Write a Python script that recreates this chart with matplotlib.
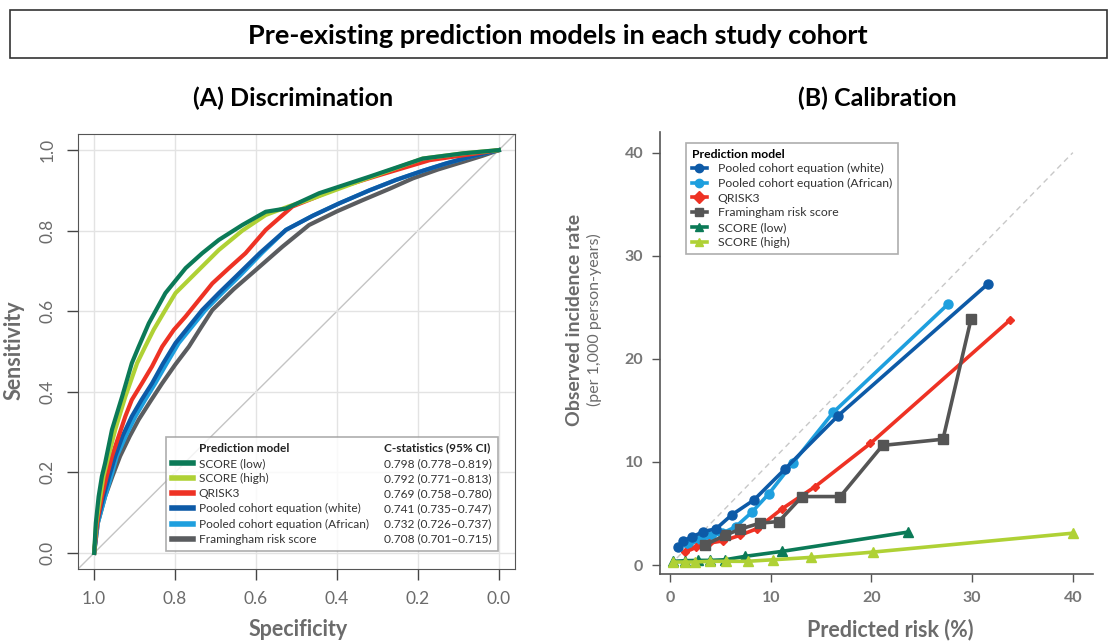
import matplotlib
matplotlib.use("Agg")
import matplotlib.pyplot as plt
from matplotlib.lines import Line2D
from matplotlib.patches import Rectangle

plt.rcParams['font.family'] = ['Lato', 'DejaVu Sans']

# colours per model
c_white = "#0d5aa7"
c_african = "#1e9fde"
c_qrisk = "#ee3224"
c_fram = "#5a5c5f"
c_low = "#0b7a57"
c_high = "#afd135"

# ---- (A) ROC curves: specificity / sensitivity
roc_low_spec = [1.0, 0.996, 0.989, 0.981, 0.973, 0.956, 0.931, 0.907, 0.890, 0.865, 0.824, 0.774,
                0.733, 0.692, 0.634, 0.576, 0.526, 0.444, 0.320, 0.188, 0.088, 0.0]
roc_low_sens = [0.0, 0.074, 0.140, 0.190, 0.223, 0.306, 0.388, 0.471, 0.512, 0.570, 0.645, 0.707,
                0.744, 0.777, 0.814, 0.847, 0.855, 0.893, 0.934, 0.979, 0.992, 1.0]
roc_high_spec = [1.0, 0.995, 0.985, 0.977, 0.969, 0.948, 0.923, 0.894, 0.874, 0.853, 0.826, 0.799,
                 0.750, 0.692, 0.634, 0.576, 0.520, 0.460, 0.336, 0.188, 0.088, 0.0]
roc_high_sens = [0.0, 0.074, 0.140, 0.190, 0.223, 0.306, 0.388, 0.471, 0.512, 0.554, 0.600, 0.645,
                 0.694, 0.752, 0.800, 0.839, 0.860, 0.880, 0.926, 0.979, 0.992, 1.0]
roc_qrisk_spec = [1.0, 0.993, 0.981, 0.969, 0.956, 0.923, 0.907, 0.882, 0.857, 0.832, 0.803, 0.774,
                  0.741, 0.708, 0.667, 0.626, 0.576, 0.510, 0.460, 0.402, 0.295, 0.171, 0.0]
roc_qrisk_sens = [0.0, 0.074, 0.140, 0.190, 0.240, 0.339, 0.380, 0.421, 0.463, 0.512, 0.554, 0.587,
                  0.628, 0.669, 0.707, 0.744, 0.802, 0.860, 0.880, 0.905, 0.938, 0.975, 1.0]
roc_white_spec = [1.0, 0.993, 0.977, 0.963, 0.948, 0.930, 0.907, 0.883, 0.857, 0.830, 0.799, 0.766,
                  0.733, 0.692, 0.650, 0.590, 0.526, 0.460, 0.394, 0.320, 0.254, 0.190, 0.130, 0.065, 0.0]
roc_white_sens = [0.0, 0.074, 0.140, 0.190, 0.240, 0.290, 0.339, 0.380, 0.421, 0.470, 0.521, 0.562,
                  0.603, 0.645, 0.686, 0.745, 0.802, 0.837, 0.868, 0.900, 0.926, 0.948, 0.967, 0.985, 1.0]
roc_african_spec = [1.0, 0.991, 0.973, 0.958, 0.944, 0.922, 0.898, 0.874, 0.849, 0.821, 0.791, 0.758,
                    0.725, 0.684, 0.642, 0.585, 0.526, 0.460, 0.394, 0.320, 0.254, 0.190, 0.130, 0.065, 0.0]
roc_african_sens = [0.0, 0.074, 0.140, 0.190, 0.240, 0.290, 0.339, 0.380, 0.421, 0.470, 0.521, 0.562,
                    0.603, 0.645, 0.686, 0.745, 0.802, 0.837, 0.868, 0.900, 0.926, 0.948, 0.967, 0.985, 1.0]
roc_fram_spec = [1.0, 0.991, 0.973, 0.955, 0.936, 0.912, 0.890, 0.862, 0.832, 0.800, 0.766, 0.737,
                 0.708, 0.655, 0.601, 0.535, 0.469, 0.400, 0.336, 0.270, 0.212, 0.150, 0.088, 0.040, 0.0]
roc_fram_sens = [0.0, 0.074, 0.140, 0.190, 0.240, 0.290, 0.331, 0.375, 0.421, 0.467, 0.512, 0.558,
                 0.603, 0.655, 0.702, 0.760, 0.814, 0.848, 0.876, 0.904, 0.930, 0.952, 0.971, 0.986, 1.0]

roc_names = ["SCORE (low)", "SCORE (high)", "QRISK3", "Pooled cohort equation (white)",
             "Pooled cohort equation (African)", "Framingham risk score"]
roc_cstats = ["0.798 (0.778\u20130.819)", "0.792 (0.771\u20130.813)", "0.769 (0.758\u20130.780)",
              "0.741 (0.735\u20130.747)", "0.732 (0.726\u20130.737)", "0.708 (0.701\u20130.715)"]

# ---- (B) calibration: predicted risk (%) / observed rate (per 1,000 py)
cal_white_x = [0.83, 1.32, 2.21, 3.31, 4.56, 6.12, 8.33, 11.4, 16.7, 31.6]
cal_white_y = [1.71, 2.35, 2.73, 3.25, 3.51, 4.86, 6.31, 9.3, 14.5, 27.3]
cal_african_x = [1.8, 3.0, 4.1, 5.2, 6.5, 8.1, 9.8, 12.2, 16.2, 27.6]
cal_african_y = [2.0, 2.4, 2.8, 3.1, 3.7, 5.1, 6.9, 9.9, 14.8, 25.3]
cal_qrisk_x = [1.5, 2.6, 3.9, 5.3, 6.9, 8.6, 11.1, 14.4, 19.9, 33.8]
cal_qrisk_y = [1.26, 1.71, 2.13, 2.35, 2.87, 3.51, 5.44, 7.6, 11.8, 23.8]
cal_fram_x = [3.47, 5.46, 6.94, 8.93, 10.8, 13.1, 16.9, 21.1, 27.1, 29.9]
cal_fram_y = [1.96, 2.87, 3.48, 4.06, 4.22, 6.64, 6.64, 11.6, 12.2, 23.9]
cal_low_x = [0.33, 1.49, 2.8, 3.97, 5.46, 7.44, 11.1, 23.6]
cal_low_y = [0.36, 0.42, 0.45, 0.45, 0.51, 0.84, 1.32, 3.19]
cal_high_x = [0.33, 1.49, 2.48, 3.97, 5.6, 7.7, 10.2, 14.0, 20.2, 40.0]
cal_high_y = [0.29, 0.29, 0.29, 0.36, 0.36, 0.36, 0.51, 0.74, 1.26, 3.09]

grey_txt = "#6b6b6b"

fig = plt.figure(figsize=(11.17, 6.43), dpi=100)

# header box
fig.patches.append(Rectangle((10/1117, 1-58/643), 1097/1117, 48/643, transform=fig.transFigure,
                             fill=False, edgecolor="#333333", linewidth=1.2))
fig.text(558/1117, 1-36/643, "Pre-existing prediction models in each study cohort",
         ha="center", va="center", fontsize=19.5, fontweight="bold")

# ================= (A) =================
ax = fig.add_axes([78/1117, 1-569/643, 437/1117, 435/643])
ax.axline((1, 0), (0, 1), color="#c4c4c4", lw=1, zorder=1)
lw_roc = 3.0
ax.plot(roc_fram_spec, roc_fram_sens, color=c_fram, lw=lw_roc, zorder=3)
ax.plot(roc_african_spec, roc_african_sens, color=c_african, lw=lw_roc, zorder=3)
ax.plot(roc_white_spec, roc_white_sens, color=c_white, lw=lw_roc, zorder=3)
ax.plot(roc_qrisk_spec, roc_qrisk_sens, color=c_qrisk, lw=lw_roc, zorder=3)
ax.plot(roc_high_spec, roc_high_sens, color=c_high, lw=lw_roc, zorder=3)
ax.plot(roc_low_spec, roc_low_sens, color=c_low, lw=lw_roc, zorder=3)
ax.set_xlim(1.04, -0.04)
ax.set_ylim(-0.04, 1.04)
ticks = [0.0, 0.2, 0.4, 0.6, 0.8, 1.0]
ax.set_xticks(ticks)
ax.set_yticks(ticks)
ax.set_xticklabels([f"{t:.1f}" for t in ticks])
ax.set_yticklabels([f"{t:.1f}" for t in ticks], rotation=90, va="center")
ax.grid(color="#e3e3e3", lw=1, zorder=0)
ax.tick_params(direction="out", length=8, width=1, color="#444444", labelcolor=grey_txt,
               labelsize=12.5, pad=8)
for s in ax.spines.values():
    s.set_color("#555555")

# legend with a second text column for the C statistics
blank = Line2D([], [], color="none")
line_cols = [c_low, c_high, c_qrisk, c_white, c_african, c_fram]
h = [blank] + [Line2D([], [], color=c, lw=4) for c in line_cols] + [blank] * 7
lab = ["Prediction model"] + roc_names + ["C-statistics (95% CI)"] + roc_cstats
leg = ax.legend(h, lab, ncol=2, loc="lower right", bbox_to_anchor=(0.975, 0.028),
                fontsize=8.6, handlelength=1.7, handletextpad=0.5, columnspacing=-0.9,
                labelspacing=0.35, frameon=True, fancybox=False, borderpad=0.5,
                labelcolor="#333333")
leg.get_frame().set_edgecolor("#9a9a9a")
leg.get_frame().set_linewidth(1.2)
for i in (0, 7):
    leg.get_texts()[i].set_fontweight("bold")
    leg.get_texts()[i].set_color("#222222")

fig.text(293/1117, 1-98/643, "(A) Discrimination", ha="center", va="center",
         fontsize=18, fontweight="bold")
fig.text(14/1117, 1-350/643, "Sensitivity", ha="center", va="center", rotation=90,
         fontsize=15.5, fontweight="bold", color=grey_txt)
fig.text(298/1117, 1-630/643, "Specificity", ha="center", va="center",
         fontsize=15.5, fontweight="bold", color=grey_txt)

# ================= (B) =================
bx = fig.add_axes([660/1117, 1-574.3/643, 433/1117, 442.3/643])
bx.plot([0, 40], [0, 40], color="#c8c8c8", lw=1, ls=(0, (4, 3)), zorder=1)
bx.plot(cal_white_x, cal_white_y, color=c_white, lw=2.6, marker="o", ms=6.5,
        label="Pooled cohort equation (white)", zorder=4)
bx.plot(cal_african_x, cal_african_y, color=c_african, lw=2.6, marker="o", ms=6.5,
        label="Pooled cohort equation (African)", zorder=3)
bx.plot(cal_qrisk_x, cal_qrisk_y, color=c_qrisk, lw=2.6, marker="D", ms=4.5,
        label="QRISK3", zorder=3)
bx.plot(cal_fram_x, cal_fram_y, color="#555555", lw=2.6, marker="s", ms=7,
        label="Framingham risk score", zorder=3)
bx.plot(cal_low_x, cal_low_y, color=c_low, lw=2.6, marker="^", ms=6.5,
        label="SCORE (low)", zorder=3)
bx.plot(cal_high_x, cal_high_y, color=c_high, lw=2.6, marker="^", ms=6.5,
        label="SCORE (high)", zorder=3)
bx.set_xlim(-1, 42)
bx.set_ylim(-0.9, 42)
bx.set_xticks([0, 10, 20, 30, 40])
bx.set_yticks([0, 10, 20, 30, 40])
for s in ("top", "right"):
    bx.spines[s].set_visible(False)
for s in ("left", "bottom"):
    bx.spines[s].set_color("#555555")
    bx.spines[s].set_linewidth(1.2)
bx.tick_params(direction="out", length=6, width=1, color="#555555", labelcolor="#777777",
               labelsize=11.5, pad=6)
for t in bx.get_xticklabels() + bx.get_yticklabels():
    t.set_fontweight("bold")

lg = bx.legend(loc="upper left", bbox_to_anchor=(0.046, 0.99), title="Prediction model",
               fontsize=8.8, title_fontsize=8.8, handlelength=1.2, handletextpad=0.9,
               labelspacing=0.3, fancybox=False, borderpad=0.5, alignment="left",
               labelcolor="#333333")
lg.get_title().set_fontweight("bold")
lg.get_frame().set_edgecolor("#9a9a9a")
lg.get_frame().set_linewidth(1.2)
for ln in lg.get_lines():
    ln.set_markersize(6)

fig.text(877/1117, 1-98/643, "(B) Calibration", ha="center", va="center",
         fontsize=18, fontweight="bold")
fig.text(575/1117, 1-320/643, "Observed incidence rate", ha="center", va="center",
         rotation=90, fontsize=14, fontweight="bold", color=grey_txt)
fig.text(594/1117, 1-320/643, "(per 1,000 person-years)", ha="center", va="center",
         rotation=90, fontsize=11.5, color=grey_txt)
fig.text(890/1117, 1-630/643, "Predicted risk (%)", ha="center", va="center",
         fontsize=15.5, fontweight="bold", color=grey_txt)

fig.savefig("out.png", dpi=100)
